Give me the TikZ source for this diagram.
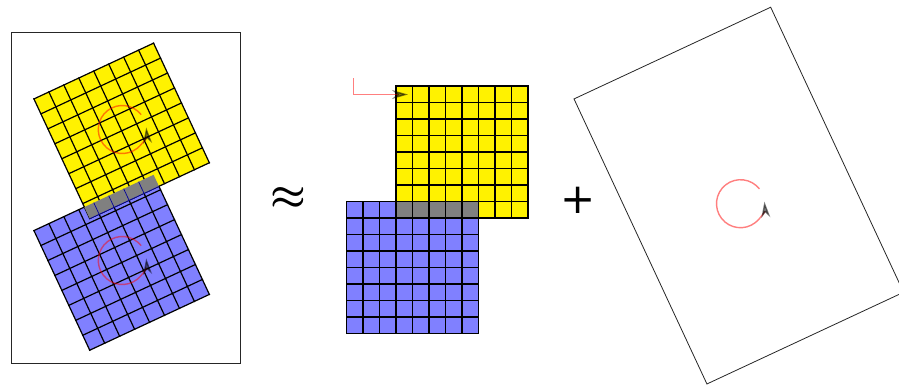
\documentclass[tikz,border=0pt]{standalone}
\usepackage{graphicx}
\usepackage{fontspec}
\newfontfamily\plusfont{DejaVu Sans}
\usetikzlibrary{arrows.meta}
\tikzset{
  gridline/.style={line width=1.2pt, black, line cap=rect},
  framebox/.style={line width=0.8pt, black!85},
  rotarrow/.style={red, line width=1.4pt, opacity=0.5,
    -{Stealth[black, length=16pt, width=9pt, inset=5pt]}},
  overlapline/.style={blue!60!black, line width=0.7pt},
  bigsym/.style={inner sep=0pt},
}
\newcommand\mycellgrid[1]{%
  \fill[#1] (-66,-66) rectangle (66,66);
  \foreach \k in {0,...,8}{%
    \draw[gridline] ({-66+16.5*\k},-66) -- ({-66+16.5*\k},66);
    \draw[gridline] (-66,{-66+16.5*\k}) -- (66,{-66+16.5*\k});
  }%
}
\begin{document}
\begin{tikzpicture}[x=1pt,y=-1pt]
\useasboundingbox (0,0) rectangle (899,388);

% left panel
\draw[framebox] (11.5,32.3) rectangle (240,363.3);
\begin{scope}[shift={(121.65,262.5)}, rotate=25]
  \mycellgrid{blue!50}
\end{scope}
\begin{scope}[shift={(121.65,130.85)}, rotate=25]
  \mycellgrid{yellow}
\end{scope}
\begin{scope}[shift={(121.65,262.5)}, rotate=25]
  \fill[gray] (-10.43,-66) rectangle (66,-53.18);
  \foreach \p in {0,16.5,33,49.5}{
    \draw[overlapline] (\p,-66) -- (\p,-53.18);
  }
  \draw[overlapline] (-10.43,-53.18) -- (66,-53.18);
\end{scope}
\coordinate (ycen) at (122.3,129.5);
\coordinate (bcen) at (122.3,260.5);
\coordinate (rcen) at (740.5,203.7);
\draw[rotarrow] (ycen) ++(-38:24) arc[start angle=-38, end angle=-365, radius=24];
\draw[rotarrow] (bcen) ++(-38:24) arc[start angle=-38, end angle=-365, radius=24];

% approx sign
\node[bigsym] (approx) at (288,198) {\scalebox{4}{\boldmath$\approx$}};

% middle panel
\begin{scope}[shift={(462,152)}]
  \mycellgrid{yellow}
\end{scope}
\begin{scope}[shift={(412.5,267.5)}]
  \mycellgrid{blue!50}
\end{scope}
\begin{scope}[shift={(462,152)}]
  \fill[gray] (-66,49.5) rectangle (16.5,66);
  \foreach \k in {0,...,5}{
    \draw[gridline] ({-66+16.5*\k},49.5) -- ({-66+16.5*\k},66);
  }
  \draw[gridline] (-66,49.5) -- (16.5,49.5);
  \draw[gridline] (-66,66) -- (16.5,66);
\end{scope}
\coordinate (mstart) at (353.5,78);
\coordinate (mtip) at (408,94.5);
\draw[rotarrow] (mstart) |- (mtip);

% plus sign
\node[bigsym] (plus) at (578.3,200.7) {\plusfont\fontsize{42}{44}\selectfont +};

% right panel
\begin{scope}[shift={(738.8,195.6)}, rotate=25]
  \draw[framebox] (-108.5,-157.25) rectangle (108.5,157.25);
\end{scope}
\draw[rotarrow] (rcen) ++(-38:24) arc[start angle=-38, end angle=-365, radius=24];
\end{tikzpicture}
\end{document}
